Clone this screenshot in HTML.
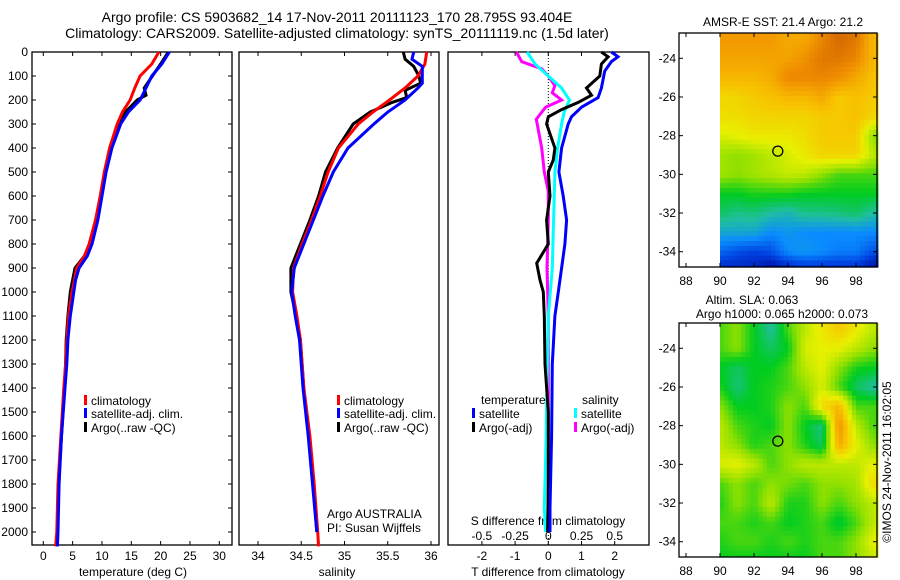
<!DOCTYPE html>
<html><head><meta charset="utf-8"><style>
html,body{margin:0;padding:0;background:#fff;}
svg{display:block;font-family:"Liberation Sans",sans-serif;}
</style></head><body>
<svg id="chart" width="900" height="580" viewBox="0 0 900 580" xmlns="http://www.w3.org/2000/svg">
<g id="static" font-size="12" fill="#000">
<text x="337" y="22" font-size="14" text-anchor="middle">Argo profile: CS 5903682_14 17-Nov-2011 20111123_170 28.795S 93.404E</text>
<text x="337" y="38" font-size="14" text-anchor="middle">Climatology: CARS2009. Satellite-adjusted climatology: synTS_20111119.nc (1.5d later)</text>
<text x="133" y="576" text-anchor="middle">temperature (deg C)</text>
<text x="337" y="576" text-anchor="middle">salinity</text>
<text x="548" y="576" text-anchor="middle">T difference from climatology</text>
<text x="548" y="525" text-anchor="middle">S difference from climatology</text>
<text x="327" y="518">Argo AUSTRALIA</text>
<text x="327" y="532">PI: Susan Wijffels</text>
<text x="783" y="26" text-anchor="middle">AMSR-E SST: 21.4 Argo: 21.2</text>
<text x="752" y="304" text-anchor="middle">Altim. SLA: 0.063</text>
<text x="782" y="318" text-anchor="middle">Argo h1000: 0.065 h2000: 0.073</text>
<text transform="translate(891,462) rotate(-90)" text-anchor="middle">©IMOS 24-Nov-2011 16:02:05</text>
</g>
<g id="plots"></g>
</svg>
<script>
// ---- Depth axis ----
const depthTicks = [0,100,200,300,400,500,600,700,800,900,1000,1100,1200,1300,1400,1500,1600,1700,1800,1900,2000];
// ---- Temperature profiles ----
const tDepthClim = [0,50,100,150,200,250,300,400,500,600,700,800,850,900,950,1000,1100,1200,1300,1400,1600,1800,2000,2060];
const tClim = [19.7,18.5,16.5,15.6,14.8,13.5,12.6,11.3,10.4,9.7,8.9,7.8,7.0,5.7,5.3,4.9,4.3,4.0,3.8,3.5,3.0,2.5,2.3,2.1];
const tDepthSat = [0,50,100,150,200,250,300,400,500,600,700,800,850,900,950,1000,1100,1200,1300,1400,1600,1800,2000,2060];
const tSat = [21.5,20.2,18.5,17.5,16.5,14.5,13.2,11.7,10.7,10.0,9.3,8.3,7.5,6.1,5.5,5.2,4.6,4.2,4.0,3.7,3.1,2.7,2.5,2.4];
const tDepthArgo = [0,50,100,150,180,200,250,300,400,500,600,700,800,850,900,950,1000,1100,1200,1300,1400,1600,1800,2000];
const tArgo = [21.3,20.0,18.6,17.2,17.5,16.0,14.0,12.7,11.5,10.5,9.8,9.0,8.0,7.0,5.4,5.0,4.6,4.2,3.9,3.8,3.6,3.1,2.6,2.4];
const tTicks = [0,5,10,15,20,25,30];
// ---- Salinity profiles ----
const sDepthClim = [0,50,100,150,200,250,300,400,500,600,700,800,900,1000,1100,1200,1400,1600,1800,2000,2060];
const sClim = [35.95,35.93,35.85,35.7,35.52,35.33,35.16,34.93,34.81,34.72,34.62,34.51,34.41,34.4,34.45,34.49,34.53,34.6,34.65,34.69,34.7];
const sDepthSat = [0,30,60,100,130,150,200,250,300,400,500,600,700,800,900,1000,1100,1200,1400,1600,1800,2000];
const sSat = [35.8,35.78,35.9,35.9,35.9,35.85,35.7,35.5,35.34,35.04,34.87,34.75,34.64,34.53,34.42,34.39,34.43,34.48,34.52,34.58,34.63,34.68];
const sDepthArgo = [0,30,60,100,130,160,190,210,250,300,400,500,600,700,800,900,1000,1100,1200,1400,1600,1800,2000];
const sArgo = [35.68,35.7,35.8,35.86,35.88,35.7,35.72,35.55,35.3,35.1,34.92,34.78,34.7,34.6,34.49,34.38,34.38,34.44,34.49,34.53,34.59,34.64,34.68];
const sTicks = [34,34.5,35,35.5,36];
// ---- Difference profiles ----
const dTSatDepth = [0,20,40,80,150,190,230,270,300,400,500,600,700,800,900,1000,1100,1300,1600,1900,2000];
const dTSat = [1.9,2.1,1.9,1.7,1.6,1.5,1.0,0.7,0.6,0.4,0.32,0.45,0.55,0.5,0.4,0.3,0.2,0.12,0.1,0.05,0.05];
const dTArgoDepth = [0,20,50,100,150,180,210,240,270,300,400,450,500,600,700,800,880,950,1000,1100,1300,1500,1800,2000];
const dTArgo = [1.6,1.8,1.6,1.55,1.15,1.3,0.9,0.4,0.0,-0.05,0.2,0.15,0.0,0.05,-0.05,0.0,-0.35,-0.25,-0.15,-0.12,-0.1,0.0,0.0,-0.02];
const dSSatDepth = [0,50,100,150,200,250,300,400,500,700,900,1100,1400,1700,1900,2000];
const dSSat = [-0.16,-0.1,0.0,0.1,0.16,0.12,0.1,0.07,0.05,0.04,0.03,0.0,-0.01,-0.02,-0.03,-0.02];
const dSArgoDepth = [0,40,70,100,140,170,200,230,280,400,500,580,700,900,1100,1500,2000];
const dSArgo = [-0.24,-0.2,-0.05,0.0,0.05,0.03,0.1,-0.02,-0.09,-0.05,-0.03,0.0,0.0,-0.01,0.0,0.0,0.0];
const dTTicks = [-2,-1,0,1,2];
const dSTickLabels = ["-0.5","-0.25","0","0.25","0.5"];
const dSTickValues = [-0.5,-0.25,0,0.25,0.5];
// ---- Maps ----
const mapLonTicks = [88,90,92,94,96,98];
const mapLatTicks = [-24,-26,-28,-30,-32,-34];
const argoLon = 93.4, argoLat = -28.8;
const sstGrid = [
[.78,.78,.78,.78,.75,.75,.82,.88,.85,.72],
[.76,.76,.76,.76,.76,.80,.85,.85,.82,.72],
[.72,.72,.72,.74,.82,.82,.82,.80,.75,.70],
[.65,.66,.68,.70,.72,.72,.75,.68,.70,.68],
[.64,.64,.66,.66,.66,.66,.68,.68,.70,.66],
[.58,.60,.62,.62,.62,.64,.68,.68,.68,.50],
[.52,.50,.52,.55,.58,.62,.66,.66,.66,.55],
[.52,.50,.52,.54,.56,.55,.50,.45,.45,.45],
[.40,.40,.42,.42,.42,.40,.40,.40,.40,.40],
[.35,.32,.33,.30,.28,.32,.32,.33,.35,.30],
[.25,.25,.25,.20,.22,.20,.20,.20,.20,.20],
[.15,.12,.10,.12,.20,.22,.20,.18,.18,.12],
[.05,.05,.05,.00,.02,.05,.05,.05,.05,.00]];
const slaGrid = [
[.45,.50,.40,.30,.45,.55,.62,.68,.62,.55],
[.45,.50,.40,.35,.40,.58,.60,.60,.55,.50],
[.40,.35,.40,.40,.45,.55,.60,.50,.42,.40],
[.42,.33,.40,.42,.45,.50,.58,.45,.35,.30],
[.50,.40,.40,.42,.50,.45,.65,.72,.45,.45],
[.55,.45,.42,.40,.50,.40,.32,.80,.55,.45],
[.55,.50,.42,.45,.50,.42,.35,.75,.60,.50],
[.58,.60,.55,.45,.50,.55,.55,.55,.55,.60],
[.45,.50,.45,.50,.48,.45,.50,.50,.52,.65],
[.42,.50,.45,.55,.42,.42,.50,.45,.50,.55],
[.45,.45,.42,.45,.40,.42,.45,.38,.45,.55],
[.42,.45,.45,.42,.45,.42,.45,.45,.50,.60],
[.40,.40,.40,.40,.40,.40,.45,.45,.50,.55]];

const NS='http://www.w3.org/2000/svg';
const root=document.getElementById('plots');
function el(tag,attrs,parent){const e=document.createElementNS(NS,tag);for(const k in attrs)e.setAttribute(k,attrs[k]);(parent||root).appendChild(e);return e;}
function txt(x,y,s,anchor,parent){const t=el('text',{x:x,y:y,'font-size':12,'text-anchor':anchor||'middle'},parent);t.textContent=s;return t;}

const yTop=52, yScale=0.24, plotBottom=545;
const yD=d=>yTop+d*yScale;
const xT=t=>43.3+t*5.867;
const xS=s=>258+(s-34)*86.5;
const xDT=v=>548.3+v*33.2;
const xDS=v=>548.3+v*4*33.2;

function frame(x0,x1,name){
  const r=el('rect',{x:x0,y:yTop,width:x1-x0,height:plotBottom-yTop,fill:'none',stroke:'#000','stroke-width':1.3});
  
  
}
function line(xs,ds,fx,color,w,name){
  const pts=xs.map((v,i)=>fx(v).toFixed(1)+','+yD(ds[i]).toFixed(1)).join(' ');
  const p=el('polyline',{points:pts,fill:'none',stroke:color,'stroke-width':w,'stroke-linejoin':'miter'});
  
  
}
function legendEntry(x,y,color,label,name){
  const g=el('g',{});
  
  
  el('rect',{x:x,y:y-10,width:3,height:10,fill:color},g);
  txt(x+7,y,label,'start',g);
}

// Panel frames
frame(32,232,'temperature-plot-frame');
frame(239,439,'salinity-plot-frame');
frame(448,649,'difference-plot-frame');

// depth labels and ticks
const dl=el('g',{});


depthTicks.forEach(d=>{
  txt(28,yD(d)+4,String(d),'end',dl);
  el('line',{x1:32,x2:36,y1:yD(d),y2:yD(d),stroke:'#000'},dl);
  el('line',{x1:228,x2:232,y1:yD(d),y2:yD(d),stroke:'#000'},dl);
});
// x ticks
function xTicks(vals,fx,labels,ly,name){
  const g=el('g',{});
  
  
  vals.forEach((v,i)=>{
    const x=fx(v);
    el('line',{x1:x,x2:x,y1:yTop,y2:yTop+4,stroke:'#000'},g);
    el('line',{x1:x,x2:x,y1:plotBottom-4,y2:plotBottom,stroke:'#000'},g);
    if(labels) txt(x,ly,labels[i],'middle',g);
  });
}
xTicks(tTicks,xT,tTicks.map(String),560,'temperature-x-axis');
xTicks(sTicks,xS,sTicks.map(String),560,'salinity-x-axis');
xTicks(dTTicks,xDT,dTTicks.map(String),560,'t-diff-x-axis');
const sl=el('g',{});


dSTickValues.forEach((v,i)=>txt(xDS(v),540,dSTickLabels[i],'middle',sl));

// zero line
const zl=el('line',{x1:xDT(0),x2:xDT(0),y1:yTop,y2:plotBottom,stroke:'#000','stroke-dasharray':'1,2'});



// Temperature
line(tArgo,tDepthArgo,xT,'#000',3,'temperature-argo-line');
line(tClim,tDepthClim,xT,'#f00',3,'temperature-climatology-line');
line(tSat,tDepthSat,xT,'#00f',3,'temperature-satellite-line');
// Salinity
line(sArgo,sDepthArgo,xS,'#000',3,'salinity-argo-line');
line(sClim,sDepthClim,xS,'#f00',3,'salinity-climatology-line');
line(sSat,sDepthSat,xS,'#00f',3,'salinity-satellite-line');
// Differences
line(dSArgo,dSArgoDepth,xDS,'#f0f',3,'s-diff-argo-line');
line(dSSat,dSSatDepth,xDS,'#0ff',3,'s-diff-satellite-line');
line(dTArgo,dTArgoDepth,xDT,'#000',3,'t-diff-argo-line');
line(dTSat,dTSatDepth,xDT,'#00f',3,'t-diff-satellite-line');

// legends
legendEntry(84,405,'#f00','climatology','legend-temp-climatology');
legendEntry(84,418,'#00f','satellite-adj. clim.','legend-temp-satellite');
legendEntry(84,432,'#000','Argo(..raw -QC)','legend-temp-argo');
legendEntry(337,405,'#f00','climatology','legend-sal-climatology');
legendEntry(337,418,'#00f','satellite-adj. clim.','legend-sal-satellite');
legendEntry(337,432,'#000','Argo(..raw -QC)','legend-sal-argo');
txt(481,404,'temperature','start');
txt(582,404,'salinity','start');
legendEntry(472,418,'#00f','satellite','legend-diff-t-satellite');
legendEntry(472,432,'#000','Argo(-adj)','legend-diff-t-argo');
legendEntry(574,418,'#0ff','satellite','legend-diff-s-satellite');
legendEntry(574,432,'#f0f','Argo(-adj)','legend-diff-s-argo');

// ---- Maps ----
const cstops=[[0,[0,0,138]],[.1,[0,64,224]],[.2,[10,140,255]],[.3,[32,190,160]],[.4,[0,204,32]],[.5,[144,224,0]],[.6,[232,240,0]],[.7,[248,192,0]],[.8,[240,144,0]],[.9,[208,96,0]],[1,[160,48,0]]];
function cmap(v){v=Math.max(0,Math.min(1,v));for(let i=1;i<cstops.length;i++){if(v<=cstops[i][0]){const a=cstops[i-1],b=cstops[i];const f=(v-a[0])/(b[0]-a[0]);const c=a[1].map((x,k)=>Math.round(x+(b[1][k]-x)*f));return 'rgb('+c.join(',')+')';}}return 'rgb(160,48,0)';}
function sample(grid,lon,lat){
  let fj=Math.max(0,Math.min(9,lon-90)), fi=Math.max(0,Math.min(12,-23-lat));
  const j0=Math.floor(fj),i0=Math.floor(fi),j1=Math.min(9,j0+1),i1=Math.min(12,i0+1);
  const a=fj-j0,b=fi-i0;
  return grid[i0][j0]*(1-a)*(1-b)+grid[i0][j1]*a*(1-b)+grid[i1][j0]*(1-a)*b+grid[i1][j1]*a*b;
}
function drawMap(grid,oy,name){
  const mx=lon=>686+(lon-88)*17, my=lat=>oy+58.3+(-24-lat)*19.34;
  const g=el('g',{});
  
  
  const step=0.25;
  for(let lat=-22.7;lat>-34.8;lat-=step){
    for(let lon=90;lon<99.3;lon+=step){
      const v=sample(grid,lon+step/2,lat-step/2);
      const y0=my(lat),y1=my(Math.max(lat-step,-34.8));
      const x0=mx(lon),x1=mx(Math.min(lon+step,99.3));
      el('rect',{x:x0.toFixed(2),y:y0.toFixed(2),width:(x1-x0+0.4).toFixed(2),height:(y1-y0+0.4).toFixed(2),fill:cmap(v)},g);
    }
  }
  const fr=el('rect',{x:679,y:oy+33,width:198,height:234,fill:'none',stroke:'#000','stroke-width':1.3});
  
  
  mapLonTicks.forEach(l=>{const x=mx(l);el('line',{x1:x,x2:x,y1:oy+33,y2:oy+37,stroke:'#000'});el('line',{x1:x,x2:x,y1:oy+263,y2:oy+267,stroke:'#000'});txt(x,oy+285,String(l),'middle');});
  mapLatTicks.forEach(l=>{const y=my(l);el('line',{x1:679,x2:683,y1:y,y2:y,stroke:'#000'});el('line',{x1:873,x2:877,y1:y,y2:y,stroke:'#000'});txt(676,y+4,String(l),'end');});
  const c=el('circle',{cx:mx(argoLon),cy:my(argoLat),r:5,fill:'none',stroke:'#000','stroke-width':1.3});
  
  
}
drawMap(sstGrid,0,'sst-map');
drawMap(slaGrid,290,'sla-map');
</script>
</body></html>
